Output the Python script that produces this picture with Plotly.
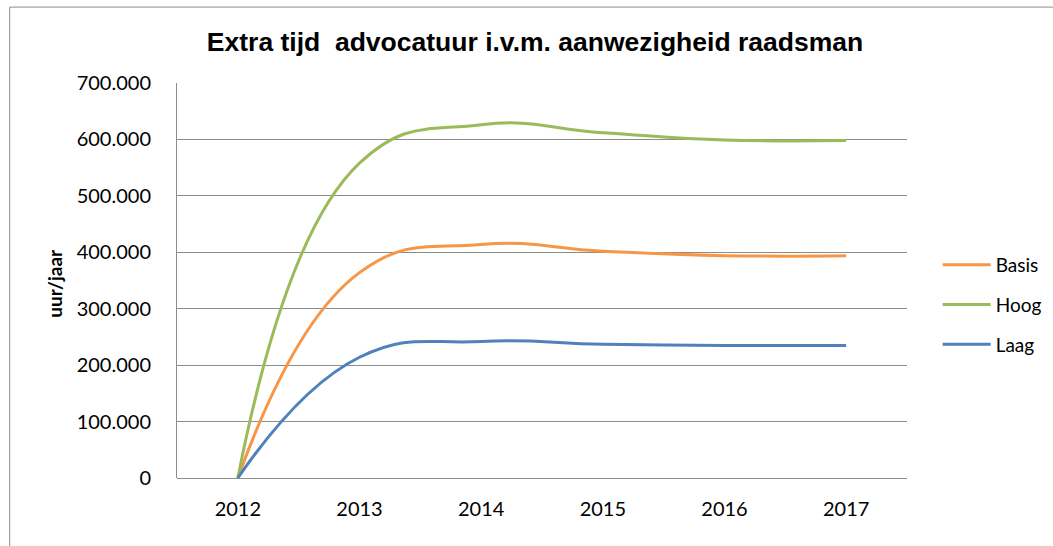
import plotly.graph_objects as go

years = [2012, 2013, 2014, 2015, 2016, 2017]
basis = [0, 364000, 414000, 402000, 394000, 394000]
hoog = [0, 558000, 626000, 612000, 599000, 598000]
laag = [0, 214000, 242000, 237000, 235000, 235000]
y_ticks = [0, 100000, 200000, 300000, 400000, 500000, 600000, 700000]

W, H = 1053, 546
L, R, T, B = 176.5, 907.3, 83.3, 477.7
pw, ph = R - L, B - T

tick_font = dict(family="Lato, Open Sans, sans-serif", size=20, color="#000000")

fig = go.Figure()
series = [("Basis", basis, "#F79646"), ("Hoog", hoog, "#9BBB59"), ("Laag", laag, "#4F81BD")]
for name, vals, col in series:
    fig.add_trace(go.Scatter(
        x=years, y=vals, name=name, mode="lines",
        line=dict(color=col, width=3, shape="spline", smoothing=1.3),
        legendgroup=name,
    ))

fig.update_layout(
    width=W, height=H,
    margin=dict(l=L, r=W - R, t=T, b=H - B, pad=0, autoexpand=False),
    paper_bgcolor="white", plot_bgcolor="white",
    separators=",.",
    title=dict(
        text="<b>Extra tijd  advocatuur i.v.m. aanwezigheid raadsman</b>",
        x=535 / W, xanchor="center", y=1 - 42 / H, yanchor="middle",
        font=dict(family="Liberation Sans, Arial, sans-serif", size=26.5, color="#000000"),
    ),
    xaxis=dict(
        range=[2011.5, 2017.5], tickvals=years, ticktext=[str(y) for y in years],
        showgrid=False, zeroline=False, showline=False, ticks="",
        tickfont=tick_font, ticklabelstandoff=17,
    ),
    yaxis=dict(
        range=[0, 700000], tickvals=y_ticks, tickformat=",d",
        showgrid=True, gridcolor="#8C8C8C", gridwidth=1,
        zeroline=True, zerolinecolor="#8C8C8C", zerolinewidth=1,
        showline=True, linecolor="#8C8C8C", linewidth=1, ticks="",
        tickfont=tick_font, ticklabelstandoff=21,
    ),
    legend=dict(
        x=(938 - L) / pw, xanchor="left", y=1 - (246 - T) / ph, yanchor="top",
        font=dict(family="Lato, Open Sans, sans-serif", size=19, color="#000000"),
        tracegroupgap=12, bgcolor="rgba(0,0,0,0)", itemwidth=48,
    ),
    showlegend=True,
)

fig.add_annotation(
    text="<b>uur/jaar</b>", textangle=-90, showarrow=False,
    xref="paper", yref="paper", x=(53 - L) / pw, y=(B - 283) / ph,
    xanchor="center", yanchor="middle",
    font=dict(family="Lato, Open Sans, sans-serif", size=19, color="#000000"),
)

fig.add_shape(
    type="rect", xref="paper", yref="paper",
    x0=(9 - L) / pw, x1=(1070 - L) / pw,
    y0=(B - 560) / ph, y1=(B - 7.5) / ph,
    line=dict(color="#8C8C8C", width=1), fillcolor="rgba(0,0,0,0)", layer="below",
)

fig.write_html("out.html", config={"displayModeBar": False},
               post_script="document.body.style.margin='0px';")
